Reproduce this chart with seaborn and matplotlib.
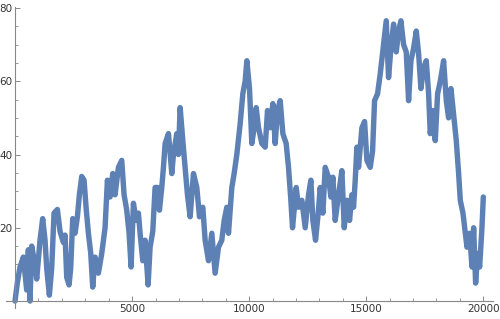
import matplotlib
matplotlib.use("Agg")
import matplotlib.pyplot as plt
import matplotlib.ticker as mticker
import seaborn as sns
import pandas as pd

steps = [0, 100, 214, 356, 499, 570, 641, 712, 855, 926, 1068, 1182, 1282, 1353, 1467,
         1567, 1667, 1809, 1923, 2066, 2137, 2208, 2308, 2379, 2464, 2564, 2664, 2749,
         2849, 2949, 3034, 3134, 3234, 3319, 3419, 3561, 3704, 3846, 3946, 4060, 4174,
         4273, 4416, 4558, 4658, 4772, 4872, 4957, 5057, 5171, 5271, 5342, 5456, 5555,
         5684, 5769, 5883, 5983, 6083, 6168, 6268, 6339, 6411, 6553, 6696, 6767, 6909,
         6980, 7052, 7166, 7265, 7365, 7479, 7621, 7764, 7878, 8020, 8120, 8263, 8405,
         8547, 8690, 8832, 8932, 9046, 9117, 9260, 9359, 9473, 9616, 9730, 9829, 9901,
         10015, 10114, 10214, 10300, 10399, 10542, 10684, 10784, 10898, 11012, 11111,
         11211, 11325, 11439, 11581, 11681, 11781, 11852, 12009, 12109, 12251, 12394,
         12536, 12636, 12721, 12835, 12949, 13034, 13148, 13248, 13390, 13490, 13575,
         13675, 13817, 13960, 14060, 14174, 14288, 14387, 14458, 14530, 14601, 14672,
         14815, 14929, 15028, 15171, 15271, 15356, 15484, 15598, 15741, 15854, 15954,
         16054, 16168, 16282, 16382, 16481, 16595, 16709, 16809, 16909, 17023, 17137,
         17237, 17336, 17450, 17564, 17664, 17735, 17849, 17948, 18048, 18162, 18305,
         18419, 18518, 18618, 18732, 18846, 18946, 19017, 19131, 19231, 19302, 19416,
         19516, 19587, 19672, 19757, 19843, 19943, 20000]
values = [0, 5, 9.3, 12, 3, 14, 0, 15, 10, 6, 16.6, 22.5, 16.6, 9, 1.6,
          9, 24, 25, 19, 16, 18, 6.5, 4.4, 9, 22.5, 18.5, 23, 29,
          34, 33, 25.6, 18.5, 13, 3.8, 12, 7.6, 13, 20, 33, 28.4, 34.8,
          29, 36.5, 38.4, 29, 24.8, 18.5, 9.3, 26.7, 22, 24, 18.5, 11, 16.6,
          4.4, 14.7, 19, 31, 31, 24.8, 31, 36.5, 43, 45.7, 34.8, 40, 45.7,
          40, 52.8, 43.8, 36.5, 29, 23, 34.8, 31, 23, 25.6, 16.6, 11, 18.5,
          7.6, 14.7, 16.6, 22, 25.6, 18.5, 31, 34.8, 40, 48.4, 56.6, 60, 65.6,
          58, 43, 47.3, 52.8, 47.3, 43, 42, 52, 47.3, 53.9, 43,
          52, 54.7, 45.7, 43, 36.5, 27.5, 20, 31, 25.6, 27.5, 20,
          29, 33, 22, 16.6, 24, 31, 24, 36.5, 33.8, 28.4, 33.8,
          22, 29, 35.6, 20, 27.5, 22, 29, 25.6, 33, 42, 36.5,
          47.3, 49, 38.4, 36.5, 41, 54.7, 56.6, 62, 70, 76.5, 61,
          69, 75.6, 68, 73.7, 76.5, 70, 68, 54.7, 65.6, 69, 73.7,
          67.5, 58, 63.7, 65.6, 56.6, 45.7, 52, 43.8, 56.6, 60, 65.6,
          54.7, 50, 58, 51, 43.8, 34.8, 27.5, 24, 18.5, 14.7, 18.5,
          9.3, 20, 4.9, 13, 9.3, 20, 28.4]

x_major = [5000, 10000, 15000, 20000]
y_major = [20, 40, 60, 80]

df = pd.DataFrame({"step": steps, "value": values})

sns.set_theme(style="white")
plt.rcParams["font.family"] = ["DejaVu Sans"]

W, H = 500, 319
fig = plt.figure(figsize=(W / 100, H / 100), dpi=100)
ax = fig.add_axes([6 / W, (H - 308) / H, (493 - 6) / W, (308 - 6.5) / H])

line_color = "#5E81B5"
sns.lineplot(data=df, x="step", y="value", ax=ax, color=line_color,
             linewidth=3.9, estimator=None, sort=False, solid_joinstyle="round",
             solid_capstyle="round")

ax.set_xlim(-385, 20414)
ax.set_ylim(-1.9, 80.4)
ax.set_xlabel("")
ax.set_ylabel("")

axis_col = "#888888"
for s in ["top", "right"]:
    ax.spines[s].set_visible(False)
ax.spines["left"].set_position(("data", 0))
ax.spines["bottom"].set_position(("data", 0))
ax.spines["left"].set_color(axis_col)
ax.spines["bottom"].set_color(axis_col)
ax.spines["left"].set_linewidth(0.8)
ax.spines["bottom"].set_linewidth(0.8)

ax.xaxis.set_major_locator(mticker.FixedLocator(x_major))
ax.yaxis.set_major_locator(mticker.FixedLocator(y_major))
ax.xaxis.set_minor_locator(mticker.MultipleLocator(1000))
ax.yaxis.set_minor_locator(mticker.MultipleLocator(5))
ax.tick_params(axis="both", which="major", direction="in", length=3.5, width=0.7,
               color=axis_col, labelsize=7.5, labelcolor="#333333", pad=2)
ax.tick_params(axis="both", which="minor", direction="in", length=2, width=0.6,
               color=axis_col)
ax.tick_params(axis="x", which="both", bottom=True, top=False)
ax.tick_params(axis="y", which="both", left=True, right=False)
ax.set_facecolor("white")
fig.patch.set_facecolor("white")

fig.savefig("out.png", dpi=100)
